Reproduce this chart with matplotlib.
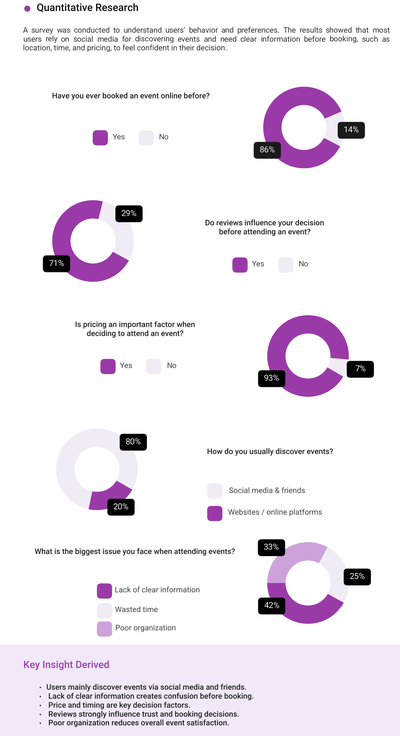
import matplotlib
matplotlib.use("Agg")
import matplotlib.pyplot as plt
from matplotlib.patches import FancyBboxPatch, Rectangle, Circle
from PIL import Image

plt.rcParams['font.family'] = ['Roboto', 'DejaVu Sans']
plt.rcParams['text.hinting'] = 'no_hinting'
plt.rcParams['text.hinting_factor'] = 1
plt.rcParams['text.kerning_factor'] = 0

PURPLE = '#9A3AA8'
LIGHT = '#F0ECF5'
MID = '#CDA2DA'
PANEL = '#F2E8F8'
W, H = 400, 736
SMALL = 5.52
SS = 3  # supersampling: Roboto snaps to whole pixel sizes, so draw larger and reduce

title = "Quantitative Research"
body_lines = [
    "A survey was conducted to understand users' behavior and preferences. The results showed that most",
    "users rely on social media for discovering events and need clear information before booking, such as",
    "location, time, and pricing, to feel confident in their decision.",
]
panel_title = "Key Insight Derived"
insights = [
    "Users mainly discover events via social media and friends.",
    "Lack of clear information creates confusion before booking.",
    "Price and timing are key decision factors.",
    "Reviews strongly influence trust and booking decisions.",
    "Poor organization reduces overall event satisfaction.",
]

booked_values = [86, 14]
reviews_values = [71, 29]
pricing_values = [93, 7]
discover_values = [80, 20]
issue_values = [42, 25, 33]

yes_no = ["Yes", "No"]
discover_labels = ["Social media & friends", "Websites / online platforms"]
issue_labels = ["Lack of clear information", "Wasted time", "Poor organization"]

# layout: center x, center y, start angle, slice colours, value-box centres
donuts = [
    (304, 127.5, 23, booked_values, [PURPLE, LIGHT], [(267.3, 150.3, '#1A1A1A'), (351.3, 130.3, '#1A1A1A')]),
    (93, 241, 76, reviews_values, [PURPLE, LIGHT], [(56.5, 263.8, '#000000'), (129, 213.8, '#000000')]),
    (308, 356, -5, pricing_values, [PURPLE, LIGHT], [(271.7, 378.7, '#000000'), (360.3, 369.3, '#000000')]),
    (97, 469.3, -30, discover_values, [LIGHT, PURPLE], [(133.3, 442.2, '#000000'), (121, 507.2, '#000000')]),
    (308, 583, 180, issue_values, [PURPLE, LIGHT, MID], [(271.7, 606, '#000000'), (357.3, 577, '#000000'), (271.5, 547.7, '#000000')]),
]
R = 40.8
HOLE = 22.5

fig = plt.figure(figsize=(W / 100, H / 100), dpi=100 * SS, facecolor='white')
ov = fig.add_axes([0, 0, 1, 1], zorder=5)
ov.set_xlim(0, W)
ov.set_ylim(H, 0)
ov.axis('off')
ov.patch.set_alpha(0)

ov.add_patch(Rectangle((0, 644.7), W, H - 644.7, color=PANEL, lw=0))

for cx, cy, start, vals, cols, boxes in donuts:
    ax = fig.add_axes([(cx - R) / W, 1 - (cy + R) / H, 2 * R / W, 2 * R / H], zorder=2)
    ax.pie(vals, colors=cols, startangle=start, counterclock=True, radius=1,
           wedgeprops=dict(width=1 - HOLE / R, linewidth=0))
    ax.set_xlim(-1, 1)
    ax.set_ylim(-1, 1)
    for v, (bx, by, bc) in zip(vals, boxes):
        ov.add_patch(FancyBboxPatch((bx - 10.2, by - 5), 20.4, 10, boxstyle="round,pad=3.4,rounding_size=3.5",
                                    fc=bc, ec='none'))
        ov.text(bx, by - 0.3, f"{v}%", color='#EFEFEF', fontsize=5.9, ha='center', va='center')


def swatch(x, y, c):
    ov.add_patch(FancyBboxPatch((x - 3.8, y - 3.8), 7.6, 7.6, boxstyle="round,pad=3.8,rounding_size=4.2",
                                fc=c, ec='none'))


def label(x, y, s):
    ov.text(x, y + 2.0, s, fontsize=SMALL, color='#444444', ha='left', va='baseline')


def question(x, y, s, ha='center'):
    ov.text(x, y + 2.0, s, fontsize=SMALL, color='#222222', ha=ha, va='baseline', fontweight='medium')


# header
ov.add_patch(Circle((27.3, 8.7), 3.0, color=PURPLE, lw=0))
ov.text(36.5, 8.2, title, fontsize=7.4, color='#111111', va='center', ha='left', fontweight='medium')

# justified body
fig.canvas.draw()
rend = fig.canvas.get_renderer()


def tw(s, **kw):
    t = ov.text(0, 0, s, **kw)
    bb = t.get_window_extent(rend)
    t.remove()
    return bb.width * (W / fig.bbox.width)


body_kw = dict(fontsize=SMALL, color='#333333')
for i, (line, y) in enumerate(zip(body_lines, [32.7, 41.5, 50.3])):
    if i == 2:
        ov.text(23, y, line, ha='left', va='baseline', **body_kw)
        continue
    words = line.split(' ')
    widths = [tw(w, **body_kw) for w in words]
    gap = (390 - 23 - sum(widths)) / (len(words) - 1)
    x = 23
    for w, wd in zip(words, widths):
        ov.text(x, y, w, ha='left', va='baseline', **body_kw)
        x += wd + gap

# questions and legends
question(131, 96.3, "Have you ever booked an event online before?")
swatch(100.3, 137.8, PURPLE); label(112.5, 137.2, yes_no[0])
swatch(146.2, 137.8, LIGHT); label(158.7, 137.2, yes_no[1])

question(264.7, 223.3, "Do reviews influence your decision")
question(264.7, 232.4, "before attending an event?")
swatch(240, 265, PURPLE); label(252, 264.2, yes_no[0])
swatch(285.8, 265, LIGHT); label(298.3, 264.2, yes_no[1])

question(135, 325, "Is pricing an important factor when")
question(135, 334, "deciding to attend an event?")
swatch(108, 366.5, PURPLE); label(120, 365.8, yes_no[0])
swatch(153.7, 366.5, LIGHT); label(166.7, 365.8, yes_no[1])

question(207, 452, "How do you usually discover events?", ha='left')
swatch(214.8, 491, LIGHT); label(229, 491, discover_labels[0])
swatch(214.8, 513.5, PURPLE); label(228, 512.7, discover_labels[1])

question(34.7, 552, "What is the biggest issue you face when attending events?", ha='left')
for (sy, ly, lx), c, s in zip([(591, 590.3, 114.7), (610.8, 610, 115), (629, 628.3, 115.3)],
                              [PURPLE, LIGHT, MID], issue_labels):
    swatch(104.5, sy, c)
    label(lx, ly, s)

# insight panel
ov.text(23.5, 665.3, panel_title, fontsize=7.2, color='#9C40B4', ha='left', va='center', fontweight='medium')
for s, y, x in zip(insights, [687.7, 696.7, 705.7, 714.7, 723.4], [46.3, 48.3, 48.3, 48.3, 48.3]):
    ov.add_patch(Circle((40.3, y - 0.2), 0.7, color='#222222', lw=0))
    ov.text(x, y + 2.0, s, fontsize=SMALL, color='#222222', ha='left', va='baseline', fontweight='medium')

fig.savefig('out.png', dpi=100 * SS, facecolor='white')
Image.open('out.png').convert('RGB').resize((W, H), Image.LANCZOS).save('out.png')
